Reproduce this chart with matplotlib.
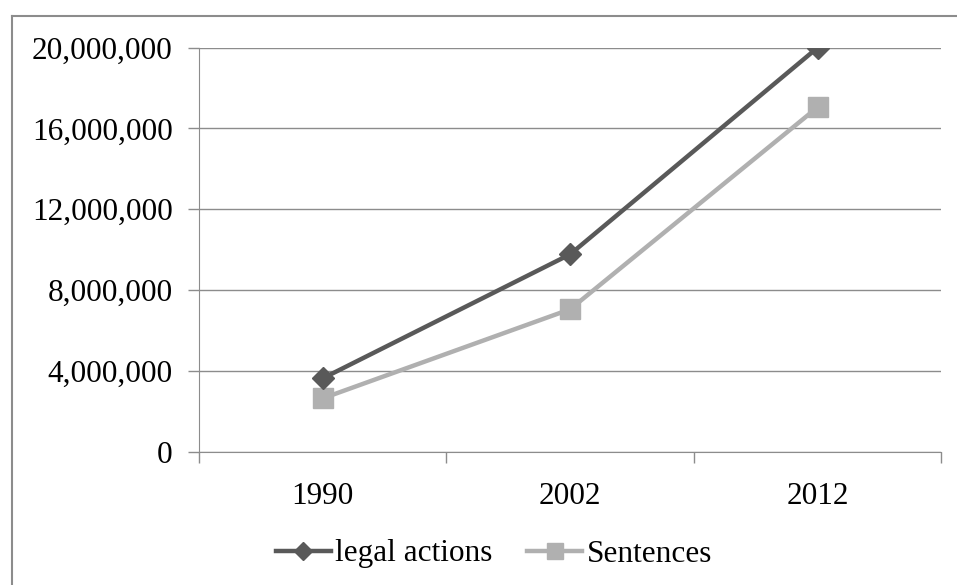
import matplotlib.pyplot as plt
import numpy as np
from matplotlib.ticker import FuncFormatter, FixedLocator

# Datos
years = ["1990", "2002", "2012"]
legal_actions = [3630000, 9770000, 20000000]
sentences = [2640000, 7050000, 17050000]

plt.rcParams["font.family"] = ["Liberation Serif", "DejaVu Serif"]

fig = plt.figure(figsize=(9.57, 5.85), dpi=100)
ax = fig.add_axes([0.2079, 0.2279, 0.9836 - 0.2079, 0.9185 - 0.2279])

# Borde del área del gráfico (solo se ve arriba y a la izquierda)
fig.add_artist(plt.Line2D([11.5 / 957, 11.5 / 957], [0, 1 - 15.5 / 585],
                          color="#8c8c8c", lw=1.5, transform=fig.transFigure))
fig.add_artist(plt.Line2D([11.5 / 957, 1], [1 - 15.5 / 585, 1 - 15.5 / 585],
                          color="#8c8c8c", lw=1.5, transform=fig.transFigure))

index = np.arange(len(years))
ax.plot(index, legal_actions, color="#595959", lw=3.2, marker="D", markersize=11,
        label="legal actions", zorder=4)
ax.plot(index, sentences, color="#b0b0b0", lw=3.2, marker="s", markersize=14,
        label="Sentences", zorder=3)

ax.set_xlim(-0.5, len(years) - 0.5)
ax.set_ylim(0, 20000000)
ax.set_yticks(np.arange(0, 20000001, 4000000))
ax.yaxis.set_major_formatter(FuncFormatter(lambda v, p: f"{int(v):,}"))

# Marcas del eje X entre categorías, etiquetas centradas
ax.xaxis.set_major_locator(FixedLocator(np.arange(-0.5, len(years), 1.0)))
ax.xaxis.set_major_formatter(FuncFormatter(lambda v, p: ""))
ax.xaxis.set_minor_locator(FixedLocator(index))
ax.set_xticklabels(years, minor=True)
ax.tick_params(axis="x", which="minor", length=0, pad=22, labelsize=22.5)
ax.tick_params(axis="x", which="major", length=8, width=1, color="#8c8c8c")
ax.tick_params(axis="y", length=8, width=1, color="#8c8c8c", pad=11, labelsize=22.5)

ax.grid(True, axis="y", color="#8c8c8c", lw=1)
ax.set_axisbelow(True)
for side in ["top", "right"]:
    ax.spines[side].set_visible(False)
ax.spines["left"].set_color("#8c8c8c")
ax.spines["bottom"].set_color("#8c8c8c")

ax.legend(loc="center", bbox_to_anchor=(494 / 957, 1 - 554 / 585),
          bbox_transform=fig.transFigure, ncol=2, frameon=False, fontsize=22.5,
          handlelength=1.75, handletextpad=0.15, columnspacing=1.1, markerscale=0.8)

fig.savefig("out.png", dpi=100)
